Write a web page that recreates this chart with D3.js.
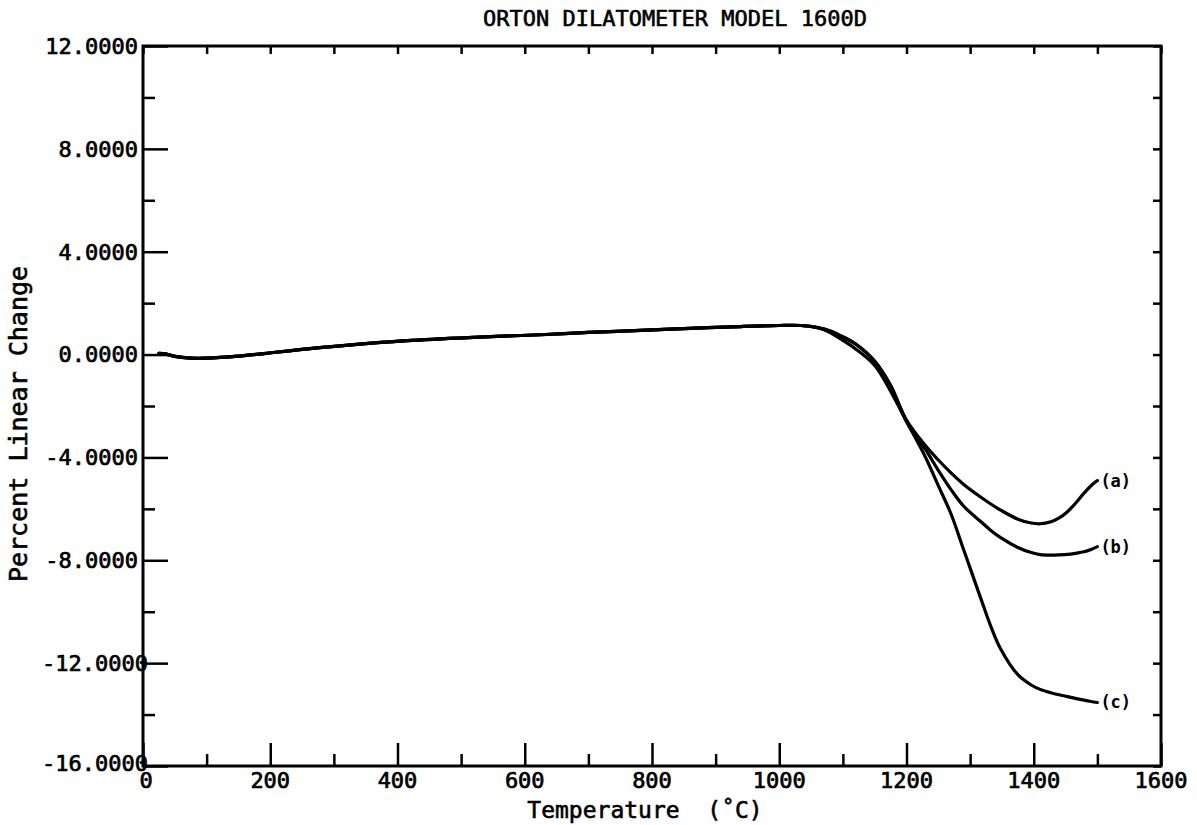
<!DOCTYPE html>
<html>
<head>
<meta charset="utf-8">
<script src="https://cdn.jsdelivr.net/npm/d3@7"></script>
<style>
  body { margin: 0; background: #fff; }
  svg { display: block; }
  text { font-family: "DejaVu Sans Mono", monospace; fill: #000; }
</style>
</head>
<body>
<svg id="chart" width="1197" height="825"></svg>
<script>
// ---- data ----
const titleText = "ORTON DILATOMETER MODEL 1600D";
const xTitle = "Temperature  (\u02DAC)";
const yTitle = "Percent Linear Change";
const xTicks = [0, 200, 400, 600, 800, 1000, 1200, 1400, 1600];
const xMinorTicks = [100, 300, 500, 700, 900, 1100, 1300, 1500];
const yTicks = [12, 8, 4, 0, -4, -8, -12, -16];
const yMinorTicks = [10, 6, 2, -2, -6, -10, -14];
const seriesNames = ["(a)", "(b)", "(c)"];

const temps = [25, 35, 50, 75, 100, 150, 205, 250, 310, 415, 520, 625, 700, 782, 860, 939, 1000, 1034, 1060,
  1080, 1100, 1120, 1150, 1175, 1200, 1230, 1250, 1270, 1290, 1317, 1333, 1348, 1375, 1396, 1410, 1427, 1440, 1453, 1465, 1479, 1490, 1500];

const seriesA = [0.05, 0.03, -0.07, -0.14, -0.14, -0.06, 0.08, 0.2, 0.34, 0.54, 0.67, 0.77, 0.86, 0.94, 1.02, 1.09, 1.13, 1.13, 1.05,
  0.92, 0.70, 0.42, -0.25, -1.2, -2.55, -3.55, -4.1, -4.6, -5.05, -5.55, -5.82, -6.05, -6.4, -6.55, -6.58, -6.5, -6.35, -6.11, -5.8, -5.39, -5.1, -4.9];
const seriesB = [0.05, 0.03, -0.07, -0.14, -0.14, -0.06, 0.08, 0.2, 0.34, 0.54, 0.67, 0.77, 0.86, 0.94, 1.02, 1.09, 1.13, 1.13, 1.05,
  0.92, 0.68, 0.40, -0.27, -1.2, -2.6, -3.7, -4.5, -5.25, -5.9, -6.5, -6.85, -7.12, -7.5, -7.7, -7.78, -7.8, -7.79, -7.77, -7.73, -7.67, -7.58, -7.47];
const seriesC = [0.05, 0.03, -0.07, -0.14, -0.14, -0.06, 0.08, 0.2, 0.34, 0.54, 0.67, 0.77, 0.86, 0.94, 1.02, 1.09, 1.13, 1.13, 1.05,
  0.86, 0.55, 0.22, -0.42, -1.42, -2.6, -4.0, -5.1, -6.2, -7.6, -9.5, -10.6, -11.45, -12.45, -12.85, -13.02, -13.15, -13.23, -13.3, -13.37, -13.44, -13.49, -13.53];

// ---- layout ----
const svg = d3.select("#chart");
const L = 143, R = 1161, T = 46, B = 766;
const x = d3.scaleLinear().domain([0, 1600]).range([L, R]);
const y = d3.scaleLinear().domain([-16, 12]).range([B, T]);

function cleanAxis(g) { g.select(".domain").remove(); g.selectAll("line").attr("stroke", "#000").attr("stroke-width", 2.5); }

// bottom axis: major ticks (up 23), minor (up 12)
svg.append("g").attr("transform", `translate(0,${B})`)
  .call(d3.axisBottom(x).tickValues(xTicks).tickSize(-23).tickFormat(""))
  .call(cleanAxis);
svg.append("g").attr("transform", `translate(0,${B})`)
  .call(d3.axisBottom(x).tickValues(xMinorTicks).tickSize(-12).tickFormat(""))
  .call(cleanAxis);
// bottom labels
svg.append("g").selectAll("text").data(xTicks).join("text")
  .attr("x", d => x(d) + (d === 0 ? 3 : 0)).attr("y", B + 22)
  .attr("text-anchor", "middle").attr("font-size", 22)
  .attr("stroke", "#000").attr("stroke-width", 0.7)
  .text(d => d);

// top axis: all ticks down 8
svg.append("g").attr("transform", `translate(0,${T})`)
  .call(d3.axisTop(x).tickValues(xTicks.concat(xMinorTicks)).tickSize(-8).tickFormat(""))
  .call(cleanAxis);

// left axis
svg.append("g").attr("transform", `translate(${L},0)`)
  .call(d3.axisLeft(y).tickValues(yTicks).tickSize(-25).tickFormat(""))
  .call(cleanAxis);
svg.append("g").attr("transform", `translate(${L},0)`)
  .call(d3.axisLeft(y).tickValues(yMinorTicks).tickSize(-12).tickFormat(""))
  .call(cleanAxis);
const fmt = d => d.toFixed(4);
svg.append("g").selectAll("text").data(yTicks).join("text")
  .attr("x", d => fmt(d).length > 7 ? L + 5 : L - 5)
  .attr("y", d => y(d) - (d === -16 ? 3 : 0)).attr("dy", "0.36em")
  .attr("text-anchor", "end").attr("font-size", 22)
  .attr("stroke", "#000").attr("stroke-width", 0.7)
  .text(fmt);

// right axis: ticks every 2, inward 8
svg.append("g").attr("transform", `translate(${R},0)`)
  .call(d3.axisRight(y).tickValues(yTicks.concat(yMinorTicks)).tickSize(-8).tickFormat(""))
  .call(cleanAxis);

// frame
svg.append("rect").attr("x", L).attr("y", T).attr("width", R - L).attr("height", B - T)
  .attr("fill", "none").attr("stroke", "#000").attr("stroke-width", 3);

// titles
svg.append("text").attr("x", 675).attr("y", 18).attr("dy", "0.36em")
  .attr("text-anchor", "middle").attr("font-size", 22)
  .attr("stroke", "#000").attr("stroke-width", 0.6)
  .text(titleText);
svg.append("text").attr("x", 645).attr("y", 810).attr("dy", "0.36em")
  .attr("text-anchor", "middle").attr("font-size", 23)
  .attr("stroke", "#000").attr("stroke-width", 0.6)
  .attr("xml:space", "preserve").style("white-space", "pre")
  .text(xTitle);
svg.append("text").attr("transform", "translate(18,424) rotate(-90)").attr("dy", "0.36em")
  .attr("text-anchor", "middle").attr("font-size", 25)
  .attr("stroke", "#000").attr("stroke-width", 0.6)
  .text(yTitle);

// curves
const line = d3.line().x(d => x(d[0])).y(d => y(d[1])).curve(d3.curveCatmullRom.alpha(0.5));
const allSeries = [seriesA, seriesB, seriesC];
allSeries.forEach((vals, i) => {
  const pts = temps.map((t, k) => [t, vals[k]]);
  svg.append("path").datum(pts).attr("d", line)
    .attr("fill", "none").attr("stroke", "#000").attr("stroke-width", 3.2)
    .attr("stroke-linejoin", "round").attr("stroke-linecap", "round");
  const last = pts[pts.length - 1];
  svg.append("text").attr("x", x(last[0]) + 3).attr("y", y(last[1])).attr("dy", "0.35em")
    .attr("font-family", "DejaVu Sans").attr("font-weight", "bold").attr("font-size", 17)
    .text(seriesNames[i]);
});
</script>
</body>
</html>
